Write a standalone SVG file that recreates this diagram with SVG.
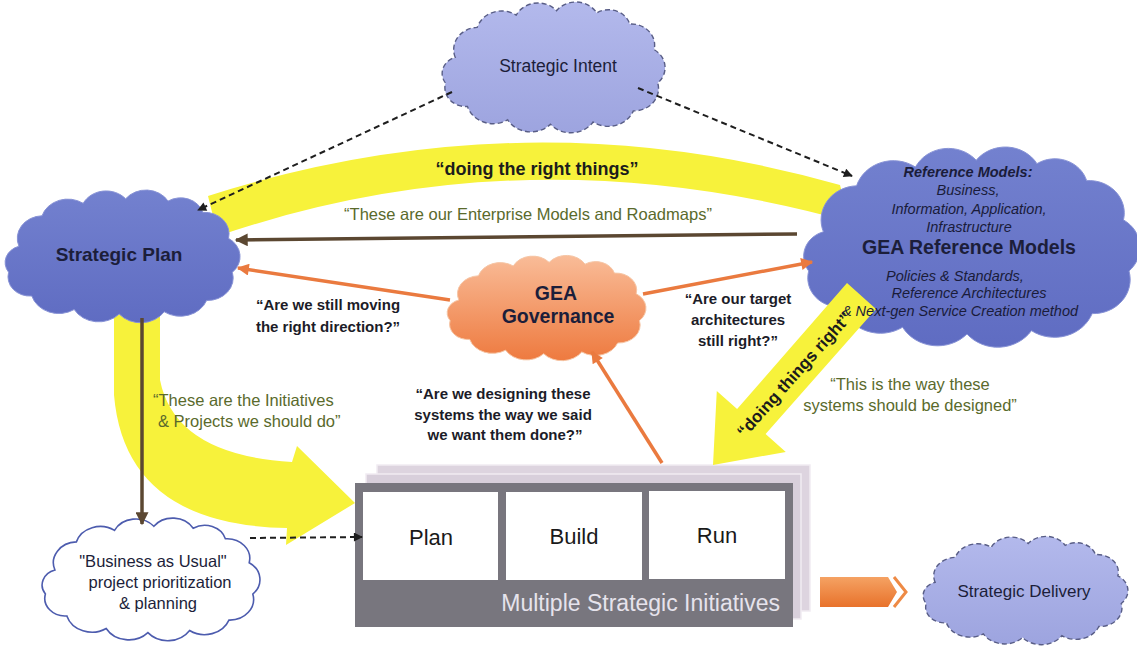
<svg xmlns="http://www.w3.org/2000/svg" width="1137" height="647" viewBox="0 0 1137 647">
  <style>
    text { font-family: "Liberation Sans", Arial, Helvetica, sans-serif; }
    .cloud-lav { fill: url(#gLav); stroke: #585d86; stroke-width: 1.4; stroke-dasharray: 5 3; }
    .cloud-blue { fill: url(#gBlue); stroke: #8893d6; stroke-width: 1; }
    .cloud-orange { fill: url(#gOrange); stroke: #f6c6a6; stroke-width: 1; }
    .cloud-white { fill: #ffffff; stroke: #4d5cae; stroke-width: 1.6; }
    .yellow { fill: #f7f23b; }
    .dash { fill: none; stroke: #1e1e1e; stroke-width: 2; stroke-dasharray: 6 4; marker-end: url(#ahBlack); }
    .brown { fill: none; stroke: #5b4731; stroke-width: 3.5; marker-end: url(#ahBrown); }
    .orange { fill: none; stroke: #ea7a3f; stroke-width: 3.5; marker-end: url(#ahOrange); }
    .q { font-weight: bold; font-size: 15px; fill: #1c1c28; text-anchor: middle; }
    .olive { font-size: 16.5px; fill: #5a6a2c; }
    .mid { text-anchor: middle; }
    .cell { fill: #ffffff; }
    .cell-text { font-size: 22px; fill: #1a1a1a; text-anchor: middle; }
    .it { font-style: italic; font-size: 14.5px; fill: #1a1c3a; text-anchor: middle; }
    .label { fill: #1c1e3a; text-anchor: middle; }
  </style>
  <defs>
    <linearGradient id="gLav" x1="0" y1="0" x2="0" y2="1">
      <stop offset="0" stop-color="#b3b9ec"/>
      <stop offset="1" stop-color="#9da4df"/>
    </linearGradient>
    <linearGradient id="gBlue" x1="0" y1="0" x2="0" y2="1">
      <stop offset="0" stop-color="#7381cf"/>
      <stop offset="1" stop-color="#5f6cc2"/>
    </linearGradient>
    <linearGradient id="gOrange" x1="0" y1="0" x2="0" y2="1">
      <stop offset="0" stop-color="#f9bc98"/>
      <stop offset="1" stop-color="#ee7a3f"/>
    </linearGradient>
    <linearGradient id="gArrow" x1="0" y1="0" x2="0" y2="1">
      <stop offset="0" stop-color="#f5a263"/>
      <stop offset="1" stop-color="#e8722b"/>
    </linearGradient>
    <!-- generic cloud outline, drawn in a 200x120 box -->
    <path id="cloudShape" vector-effect="non-scaling-stroke"
      d="M22,52 A20,20 0 0 1 40,25 A21,21 0 0 1 72,14 A20,20 0 0 1 105,10 A20,20 0 0 1 138,12 A18,18 0 0 1 165,22 A19,19 0 0 1 185,45 A19,19 0 0 1 188,75 A20,20 0 0 1 168,100 A22,22 0 0 1 135,110 A22,22 0 0 1 100,112 A22,22 0 0 1 65,108 A22,22 0 0 1 32,96 A17,17 0 0 1 14,75 A15,15 0 0 1 22,52 Z"/>
    <marker id="ahBlack" viewBox="0 0 10 10" refX="9" refY="5" markerWidth="11" markerHeight="9" markerUnits="userSpaceOnUse" orient="auto">
      <path d="M0,0 L10,5 L0,10 Z" fill="#1e1e1e"/>
    </marker>
    <marker id="ahBrown" viewBox="0 0 10 10" refX="9" refY="5" markerWidth="16" markerHeight="13" markerUnits="userSpaceOnUse" orient="auto">
      <path d="M0,0 L10,5 L0,10 Z" fill="#5b4731"/>
    </marker>
    <marker id="ahOrange" viewBox="0 0 10 10" refX="9" refY="5" markerWidth="15" markerHeight="12" markerUnits="userSpaceOnUse" orient="auto">
      <path d="M0,0 L10,5 L0,10 Z" fill="#ea7a3f"/>
    </marker>
  </defs>

  <rect width="1137" height="647" fill="#ffffff"/>

  <!-- broad yellow flows behind the clouds -->
  <g id="flows">
    <path class="yellow" d="M208,196 Q525,95 840,185 L850,222 Q525,131 218,236 Z"/>
    <path class="yellow" d="M114,300 L114,395 Q125,525 287,528 L286,545 L355,503 L297,446 L292,462 Q175,455 160,380 L160,300 Z"/>
  </g>

  <!-- stack of initiatives -->
  <g id="initiatives">
    <rect x="377" y="465" width="433" height="146" fill="#ddd4df" stroke="#f1ecf2" stroke-width="1.5"/>
    <rect x="366" y="474" width="435" height="145" fill="#d8cfdb" stroke="#f1ecf2" stroke-width="1.5"/>
    <rect x="355" y="483" width="438" height="144" fill="#78767e"/>
    <rect class="cell" x="363" y="492" width="135" height="88"/>
    <rect class="cell" x="506" y="492" width="136" height="88"/>
    <rect class="cell" x="649" y="491" width="136" height="88"/>
    <text class="cell-text" x="431" y="545">Plan</text>
    <text class="cell-text" x="574" y="544">Build</text>
    <text class="cell-text" x="717" y="543">Run</text>
    <text x="780" y="611" font-size="23" fill="#e6e3ec" text-anchor="end">Multiple Strategic Initiatives</text>
  </g>

  <g id="strategic-intent">
    <use href="#cloudShape" class="cloud-lav" transform="translate(428.4,-0.45) scale(1.22,1.113)"/>
    <text class="label" x="558" y="72" font-size="17.5" fill="#2a2c4e">Strategic Intent</text>
  </g>

  <g id="strategic-plan">
    <use href="#cloudShape" class="cloud-blue" transform="translate(-9.4,187.5) scale(1.286,1.13)"/>
    <text class="label" x="119" y="261" font-size="19" font-weight="bold">Strategic Plan</text>
  </g>

  <g id="gea-reference-models">
    <use href="#cloudShape" class="cloud-blue" transform="translate(782.9,143.2) scale(1.841,1.704)"/>
  </g>

  <g id="gea-governance">
    <use href="#cloudShape" class="cloud-orange" transform="translate(434.9,253.4) scale(1.088,0.896)"/>
    <text class="label" x="556" y="300" font-size="19.5" font-weight="bold" fill="#1e1a2c">GEA</text>
    <text class="label" x="558" y="323" font-size="19.5" font-weight="bold" fill="#1e1a2c">Governance</text>
  </g>

  <g id="business-as-usual">
    <use href="#cloudShape" class="cloud-white" transform="translate(28.7,515.8) scale(1.192,1.043)"/>
    <text class="label" x="153" y="567" font-size="16.5" fill="#222222">"Business as Usual"</text>
    <text class="label" x="160" y="588" font-size="16.5" fill="#222222">project prioritization</text>
    <text class="label" x="158" y="609" font-size="16.5" fill="#222222">&amp; planning</text>
  </g>

  <g id="strategic-delivery">
    <use href="#cloudShape" class="cloud-lav" transform="translate(910.5,534.3) scale(1.121,0.922)"/>
    <text class="label" x="1024" y="597" font-size="17" fill="#2a2c4e">Strategic Delivery</text>
  </g>

  <g id="delivery-arrow">
    <path d="M820,577 H888 L897,592 L888,607 H820 Z" fill="url(#gArrow)"/>
    <path d="M894,577 L906,592 L894,607" fill="none" stroke="#ee8a45" stroke-width="3"/>
  </g>

  <!-- "doing things right" flow, lying over the reference-model cloud -->
  <g id="doing-things-right">
    <path class="yellow" d="M847,283 L876,309 L765.6,434.0 L785.8,451.9 L713,465 L716.8,391.1 L737.1,409.0 Z"/>
    <text x="794" y="374.5" dy="0.35em" font-size="17" font-weight="bold" fill="#1c1c1c" text-anchor="middle" transform="rotate(-48.1 794 374.5)">“doing things right”</text>
  </g>

  <g id="gea-reference-models-label">
    <text class="it" x="968" y="177" font-weight="bold" font-size="14">Reference Models:</text>
    <text class="it" x="968" y="195">Business,</text>
    <text class="it" x="969" y="214">Information, Application,</text>
    <text class="it" x="969" y="232">Infrastructure</text>
    <text class="label" x="969" y="254" font-size="19.5" font-weight="bold">GEA Reference Models</text>
    <text class="it" x="955" y="281">Policies &amp; Standards,</text>
    <text class="it" x="969" y="298">Reference Architectures</text>
    <text class="it" x="960" y="316">&amp; Next-gen Service Creation method</text>
  </g>

  <!-- connectors -->
  <g id="connectors">
    <path class="dash" d="M452,92 L198,210"/>
    <path class="dash" d="M638,88 L852,176"/>
    <path class="dash" d="M250,538 L362,537"/>
    <path class="brown" d="M797,234 L236,240"/>
    <path class="brown" d="M142,318 L142,524"/>
    <path class="orange" d="M450,300 L238,268"/>
    <path class="orange" d="M643,294 L812,262"/>
    <path class="orange" d="M662,463 L592,352"/>
  </g>

  <!-- annotations -->
  <g id="annotations">
    <text x="537" y="175" font-size="18" font-weight="bold" fill="#1c1c1c" text-anchor="middle">“doing the right things”</text>
    <text class="olive mid" x="528" y="220">“These are our Enterprise Models and Roadmaps”</text>
    <text class="q" x="328" y="310">“Are we still moving</text>
    <text class="q" x="328" y="332">the right direction?”</text>
    <text class="q" x="738" y="304">“Are our target</text>
    <text class="q" x="738" y="325">architectures</text>
    <text class="q" x="738" y="346">still right?”</text>
    <text class="q" x="503" y="399">“Are we designing these</text>
    <text class="q" x="503" y="420">systems the way we said</text>
    <text class="q" x="505" y="440">we want them done?”</text>
    <text class="olive" x="153" y="406">“These are the Initiatives</text>
    <text class="olive" x="158" y="427">&amp; Projects we should do”</text>
    <text class="olive mid" x="910" y="390">“This is the way these</text>
    <text class="olive mid" x="910" y="411">systems should be designed”</text>
  </g>
</svg>
